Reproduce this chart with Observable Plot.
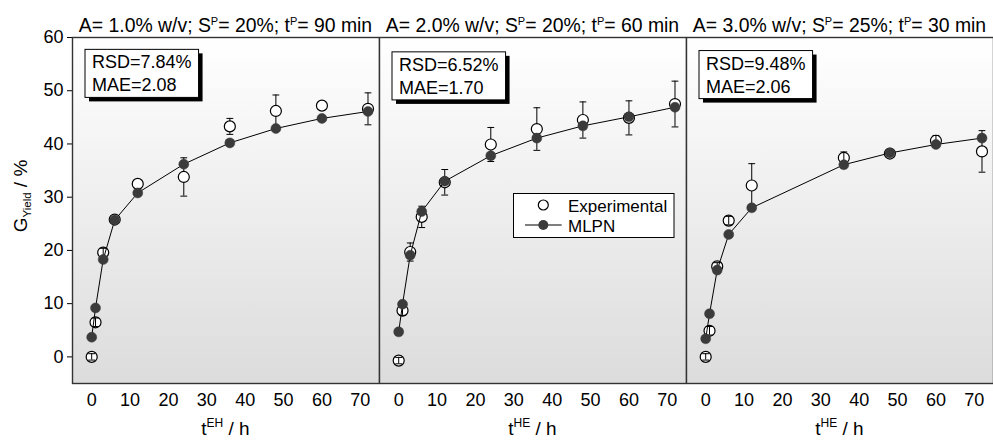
<!DOCTYPE html>
<html>
<head>
<meta charset="utf-8">
<script src="https://cdn.jsdelivr.net/npm/d3@7"></script>
<script src="https://cdn.jsdelivr.net/npm/@observablehq/plot@0.6"></script>
<style>
  body { margin: 0; background: white; }
  #row { display: flex; flex-direction: row; width: 993px; height: 440px; }
  #row svg { display: block; }
  text { white-space: pre; }
</style>
</head>
<body>
<div id="row"></div>
<script>
// ---- data ----
const titleA  = ["1.0", "2.0", "3.0"];
const titleSP = ["20", "20", "25"];
const titleTP = ["90", "60", "30"];
const xLabelSup = ["EH", "HE", "HE"];
const rsd = ["7.84%", "6.52%", "9.48%"];
const mae = ["2.08", "1.70", "2.06"];
const xTicks = [0, 10, 20, 30, 40, 50, 60, 70];
const yTicks = [0, 10, 20, 30, 40, 50, 60];

const time1 = [0, 1, 3, 6, 12, 24, 36, 48, 60, 72];
const exp1  = [0, 6.5, 19.6, 25.8, 32.5, 33.8, 43.3, 46.2, 47.2, 46.6];
const err1  = [0.6, 0.8, 0.8, 0, 0, 3.6, 1.5, 3.0, 0, 3.0];
const mlpn1 = [3.7, 9.2, 18.3, 25.7, 30.8, 36.2, 40.2, 42.9, 44.8, 46.1];

const time2 = [0, 1, 3, 6, 12, 24, 36, 48, 60, 72];
const exp2  = [-0.7, 8.7, 19.7, 26.3, 32.8, 39.9, 42.8, 44.5, 44.9, 47.5];
const err2  = [0.6, 0.9, 1.7, 2.0, 2.4, 3.2, 4.0, 3.4, 3.2, 4.3];
const mlpn2 = [4.7, 9.9, 19.1, 27.3, 33.0, 37.8, 41.1, 43.4, 45.1, 46.9];

const time3 = [0, 1, 3, 6, 12, 36, 48, 60, 72];
const exp3  = [0, 4.9, 17.0, 25.6, 32.2, 37.4, 38.2, 40.6, 38.6];
const err3  = [0.6, 0.8, 0.7, 0.8, 4.1, 1.1, 0, 1.0, 3.9];
const mlpn3 = [3.4, 8.1, 16.3, 23.0, 28.0, 36.1, 38.3, 39.9, 41.1];

const times = [time1, time2, time3];
const exps = [exp1, exp2, exp3];
const errs = [err1, err2, err3];
const mlpns = [mlpn1, mlpn2, mlpn3];

// ---- layout ----
const FONT = "'Liberation Sans', Arial, sans-serif";
const PANEL_W = 307, H = 440, MT = 37, MB = 57, ML0 = 72;
const yDomain = [-5, 60];
const pxPerUnit = (H - MT - MB) / (yDomain[1] - yDomain[0]);
const capSymbol = { draw(ctx) { ctx.moveTo(-3.4, 0); ctx.lineTo(3.4, 0); } };

function richText(g, x, y, parts, opts = {}) {
  const size = opts.size || 18, small = opts.small || 11;
  const t = g.append("text")
    .attr("x", x).attr("y", y)
    .attr("text-anchor", opts.anchor || "middle")
    .attr("font-family", FONT).attr("font-size", size).attr("fill", "black");
  if (opts.transform) t.attr("transform", opts.transform);
  let shift = 0;
  for (const [s, k] of parts) {
    const target = k === "sup" ? -(opts.supShift || 6) : k === "sub" ? (opts.subShift || 5) : 0;
    t.append("tspan").attr("dy", target - shift).attr("font-size", k ? small : size).text(s);
    shift = target;
  }
  return t;
}

const row = document.getElementById("row");

for (let i = 0; i < 3; i++) {
  const ml = i === 0 ? ML0 : 0;
  const rows = times[i].map((t, j) => ({ t, e: exps[i][j], err: errs[i][j], m: mlpns[i][j] }));
  const withErr = rows.filter(d => d.err > 0);
  const small = withErr.filter(d => d.err * pxPerUnit < 6);
  const big = withErr.filter(d => d.err * pxPerUnit >= 6);
  const caps = arr => arr.flatMap(d => [{ t: d.t, y: d.e + d.err }, { t: d.t, y: d.e - d.err }]);

  const marks = [
    Plot.frame({ fill: `url(#bg${i})`, stroke: null }),
    Plot.axisX(xTicks, { tickSize: 0, tickPadding: 10, fontSize: 18, label: null }),
    Plot.ruleX(big, { x: "t", y1: d => d.e - d.err, y2: d => d.e + d.err, stroke: "black", strokeWidth: 1 }),
    Plot.dot(caps(big), { x: "t", y: "y", symbol: capSymbol, stroke: "black", strokeWidth: 1, fill: "none" }),
    Plot.dot(rows, { x: "t", y: "e", r: 5.5, fill: "white", stroke: "black", strokeWidth: 1.2 }),
    Plot.ruleX(small, { x: "t", y1: d => d.e - d.err, y2: d => d.e + d.err, stroke: "black", strokeWidth: 1 }),
    Plot.dot(caps(small), { x: "t", y: "y", symbol: capSymbol, stroke: "black", strokeWidth: 1, fill: "none" }),
    Plot.line(rows, { x: "t", y: "m", stroke: "black", strokeWidth: 1 }),
    Plot.dot(rows, { x: "t", y: "m", r: 5, fill: "#3b3b3b", stroke: "#3b3b3b", strokeWidth: 0.5 }),
    Plot.text([`RSD=${rsd[i]}\nMAE=${mae[i]}`], {
      frameAnchor: "top-left", dx: 19.5, dy: 14.5 + (i === 1 ? 2.5 : i === 2 ? 1.2 : 0),
      text: d => d, textAnchor: "start", lineAnchor: "top", fontSize: 18, lineHeight: 1.28, fill: "black"
    }),
    Plot.frame({ stroke: "#333", strokeWidth: 1.4 })
  ];
  if (i === 0) marks.splice(2, 0, Plot.axisY(yTicks, { tickSize: 5, tickPadding: 4, fontSize: 18, label: null }));

  const svg = Plot.plot({
    width: ml + PANEL_W,
    height: H,
    marginLeft: ml,
    marginRight: 0,
    marginTop: MT,
    marginBottom: MB,
    style: { fontFamily: FONT, fontSize: "18px", color: "black", background: "white", overflow: "visible" },
    x: { domain: [-5, 75] },
    y: i === 0 ? { domain: yDomain } : { domain: yDomain, axis: null },
    marks
  });
  row.appendChild(svg);
  const s = d3.select(svg);

  // gradient background
  const grad = s.insert("defs", ":first-child").append("linearGradient")
    .attr("id", `bg${i}`).attr("x1", 0).attr("y1", 0).attr("x2", 0).attr("y2", 1);
  grad.append("stop").attr("offset", "0%").attr("stop-color", "#ffffff");
  grad.append("stop").attr("offset", "100%").attr("stop-color", "#dcdcdc");

  // box with drop shadow behind the RSD/MAE text (inside the text group, same transform)
  const tgs = s.selectAll('g[aria-label="text"]').nodes();
  const tgNode = tgs.find(n => n.textContent.includes("RSD"));
  if (tgNode) {
    const tg = d3.select(tgNode);
    const bb = tgNode.getBBox();
    const bx = bb.x - 7, by = bb.y - 3, bw = bb.width + 14, bh = bb.height + 5;
    tg.insert("rect", ":first-child").attr("x", bx).attr("y", by).attr("width", bw).attr("height", bh)
      .attr("fill", "white").attr("stroke", "black").attr("stroke-width", 1);
    tg.insert("rect", ":first-child").attr("x", bx + 4).attr("y", by + 4).attr("width", bw).attr("height", bh)
      .attr("fill", "black").attr("stroke", "none");
  }

  // panel title
  richText(s, ml + PANEL_W / 2, 31.5, [
    [`A= ${titleA[i]}% w/v; S`, ""], ["P", "sup"], [`= ${titleSP[i]}%; t`, ""], ["P", "sup"], [`= ${titleTP[i]} min`, ""]
  ], { size: 19.4, small: 11, supShift: 6.5 });

  // x label
  richText(s, ml + PANEL_W / 2, 435, [["t", ""], [xLabelSup[i], "sup"], [" / h", ""]], { size: 19, small: 12, supShift: 8 });

  // y label
  if (i === 0) {
    richText(s, 0, 0, [["G", ""], ["Yield", "sub"], [" / %", ""]],
      { size: 19, small: 11.5, subShift: 4, transform: "translate(27,196) rotate(-90)" });
  }

  // legend in middle panel
  if (i === 1) {
    const lg = s.append("g").attr("text-anchor", "start");
    lg.append("rect").attr("x", 134.5).attr("y", 193.5).attr("width", 160.5).attr("height", 44)
      .attr("fill", "white").attr("stroke", "black").attr("stroke-width", 1);
    lg.append("circle").attr("cx", 164.3).attr("cy", 205).attr("r", 5).attr("fill", "white").attr("stroke", "black").attr("stroke-width", 1.2);
    lg.append("text").attr("x", 189).attr("y", 211.5).attr("font-family", FONT).attr("font-size", 17).attr("text-anchor", "start").text("Experimental");
    lg.append("line").attr("x1", 146).attr("x2", 182.7).attr("y1", 225).attr("y2", 225).attr("stroke", "black");
    lg.append("circle").attr("cx", 164.3).attr("cy", 225).attr("r", 5).attr("fill", "#3b3b3b");
    lg.append("text").attr("x", 189).attr("y", 231.5).attr("font-family", FONT).attr("font-size", 17).attr("text-anchor", "start").text("MLPN");
  }
}
</script>
</body>
</html>
